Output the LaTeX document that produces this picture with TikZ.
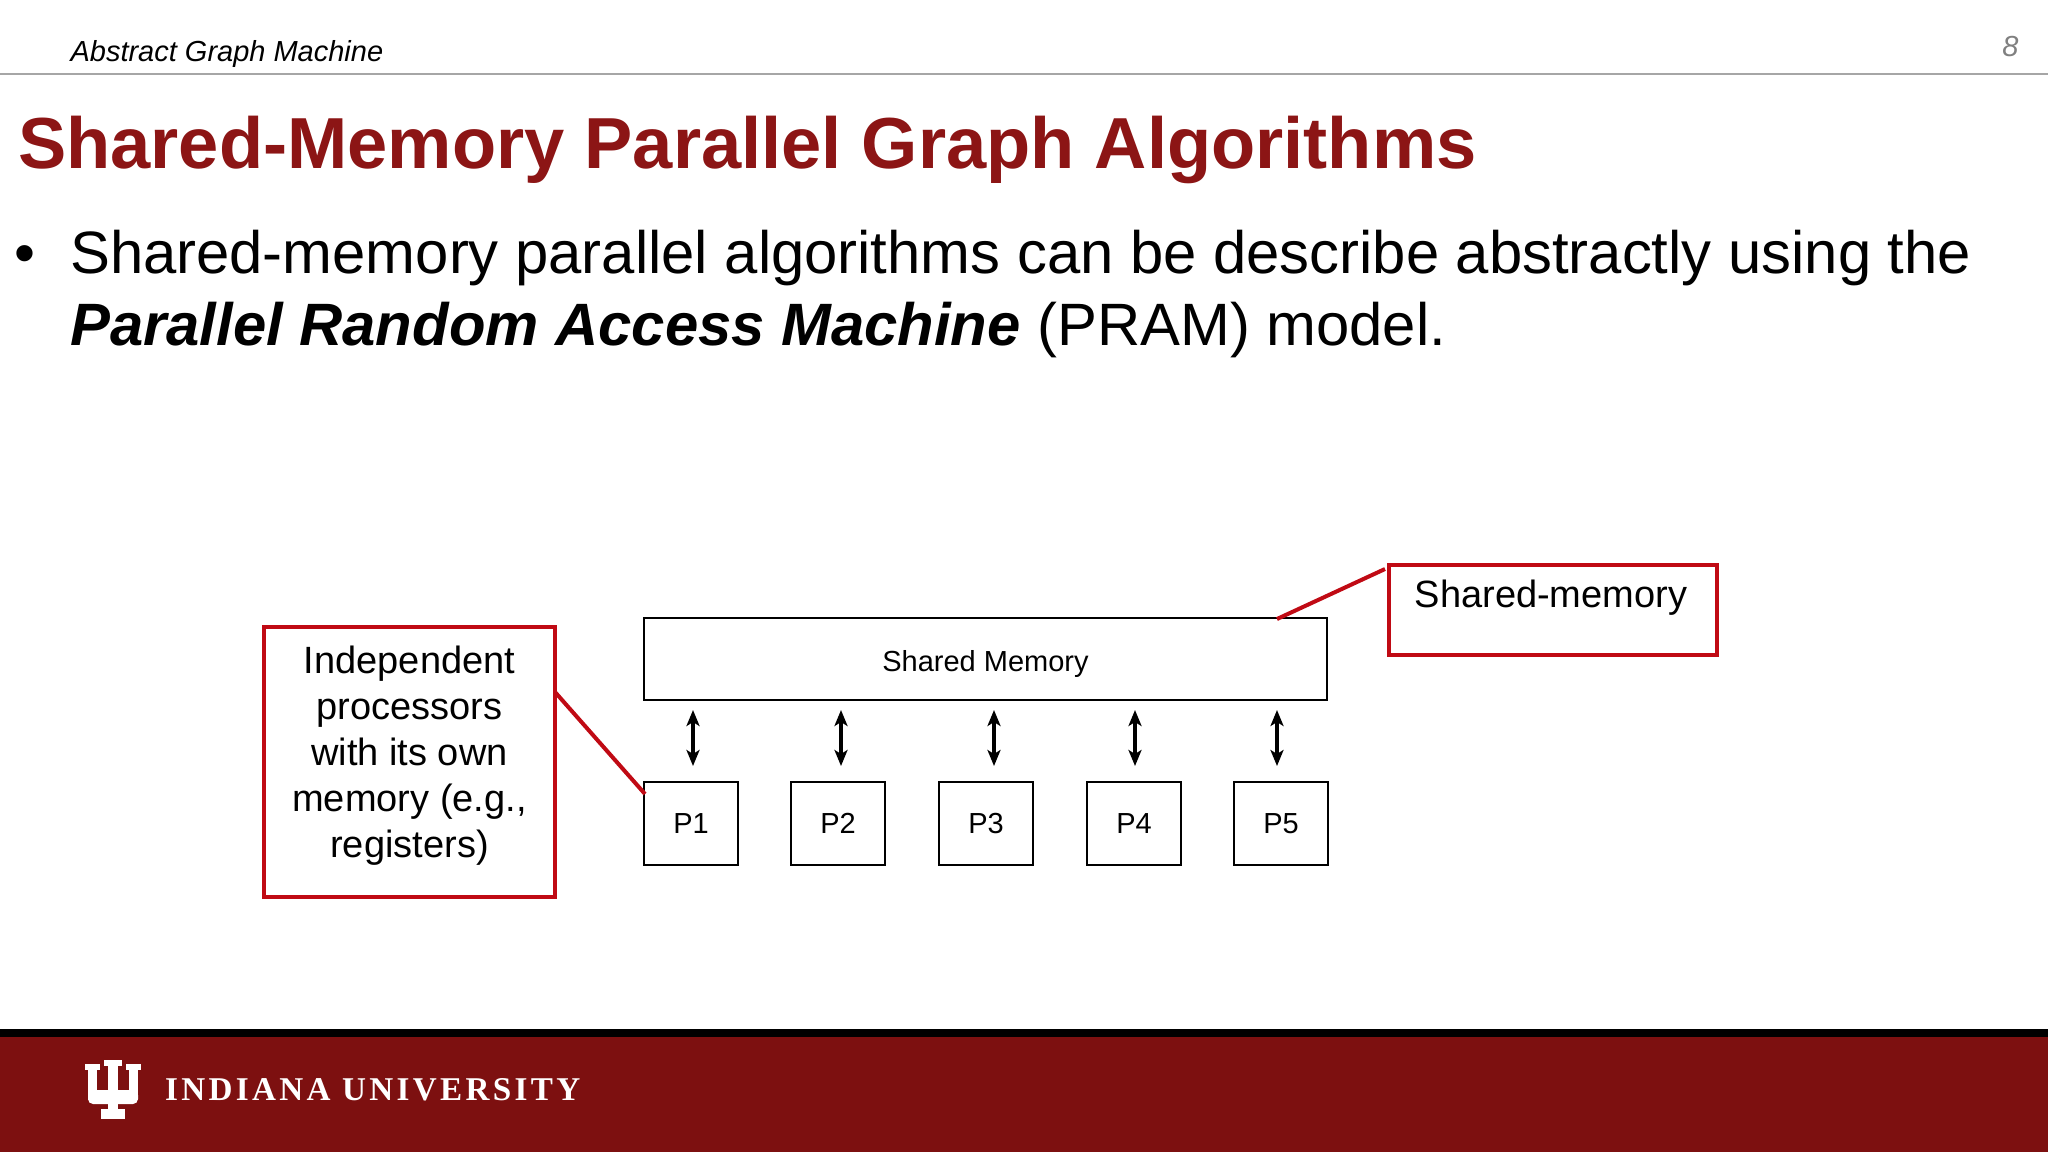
\documentclass[tikz,border=0pt]{standalone}
\usetikzlibrary{arrows.meta}
\usepackage{fontspec}
\setmainfont{Liberation Sans}
\newfontfamily\iufont[LetterSpace=10]{Liberation Serif}
\definecolor{iured}{HTML}{7D1010}
\definecolor{boxred}{HTML}{C00A14}
\definecolor{titlered}{HTML}{8C1515}
\begin{document}
\begin{tikzpicture}[x=1pt,y=-1pt,
  pbox/.style={draw,line width=1.6pt,minimum width=94pt,minimum height=83pt,inner sep=0pt,font=\fontsize{29}{34}\selectfont},
  redbox/.style={draw=boxred,line width=4pt,inner sep=0pt},
  dbl/.style={{Stealth[length=16pt,width=13pt,inset=4pt]}-{Stealth[length=16pt,width=13pt,inset=4pt]},line width=3.5pt},
  redline/.style={boxred,line width=4pt}]
\useasboundingbox (0,0) rectangle (2048,1152);
\fill[white] (0,0) rectangle (2048,1152);
\node[anchor=base west,font=\itshape\fontsize{29}{34}\selectfont] (hdr) at (67,61) {Abstract Graph Machine};
\node[anchor=base east,font=\itshape\fontsize{29}{34}\selectfont,text=gray] (pg) at (2022,56) {8};
\draw[gray!70,line width=1.5pt] (0,74) -- (2048,74);
\node[anchor=base west,font=\bfseries\fontsize{72.3}{80}\selectfont,text=titlered,inner sep=0pt] (title) at (18,168) {Shared-Memory Parallel Graph Algorithms};
\node[anchor=base west,font=\fontsize{59.8}{66}\selectfont,inner sep=0pt] (bul) at (14,273) {\textbullet};
\node[anchor=base west,font=\fontsize{59.8}{66}\selectfont,inner sep=0pt] (l1) at (70,273) {Shared-memory parallel algorithms can be describe abstractly using the};
\node[anchor=base west,font=\fontsize{59.8}{66}\selectfont,inner sep=0pt] (l2) at (70,345) {\textbf{\textit{Parallel Random Access Machine}} (PRAM) model.};
% diagram
\node[draw,line width=1.6pt,minimum width=683pt,minimum height=82pt,inner sep=0pt] (sm) at (985.5,659) {};
\node[font=\fontsize{29}{34}\selectfont] (smt) at (985.5,664) {Shared Memory};
\node[pbox] (p1) at (691,823.5) {P1};
\node[pbox] (p2) at (838,823.5) {P2};
\node[pbox] (p3) at (986,823.5) {P3};
\node[pbox] (p4) at (1134,823.5) {P4};
\node[pbox] (p5) at (1281,823.5) {P5};
\foreach \i/\x in {1/693,2/841,3/994,4/1135,5/1277}{
  \coordinate (a\i) at (\x,710); \coordinate (b\i) at (\x,766);
  \draw[dbl] (a\i) -- (b\i);}
\node[redbox,minimum width=291pt,minimum height=270pt] (ind) at (409.5,762) {};
\node[align=center,font=\fontsize{38}{46}\selectfont] (indt) at (409.5,756) {Independent\\processors\\with its own\\memory (e.g.,\\registers)};
\coordinate (i1) at (555,692); \coordinate (i2) at (645,794);
\draw[redline] (i1) -- (i2);
\node[redbox,minimum width=328pt,minimum height=90pt,anchor=north west] (shm) at (1387,563) {};
\node[anchor=base,font=\fontsize{38}{46}\selectfont] (shmt) at (1551,607) {Shared-memory};
\coordinate (s1) at (1385,569); \coordinate (s2) at (1277,619);
\draw[redline] (s1) -- (s2);
% footer
\fill[black] (0,1029) rectangle (2048,1037);
\fill[iured] (0,1037) rectangle (2048,1152);
\begin{scope}[white]
\fill (85,1064) rectangle (100,1070);
\fill (126,1064) rectangle (141,1070);
\fill (88,1064) rectangle (97,1100);
\fill (129,1064) rectangle (138,1100);
\fill[rounded corners=5pt] (88,1090) rectangle (138,1104);
\fill (104,1060) rectangle (122,1066);
\fill (108,1060) rectangle (118,1114);
\fill (101,1109) rectangle (125,1119);
\end{scope}
\node[anchor=base west,inner sep=0pt,text=white] (iu) at (165,1100) {\resizebox{415pt}{22pt}{\iufont\bfseries INDIANA UNIVERSITY}};
\end{tikzpicture}
\end{document}
